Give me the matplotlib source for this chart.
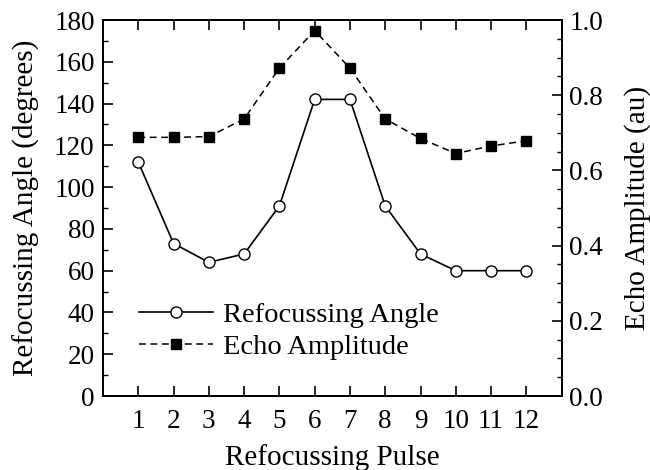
import matplotlib
matplotlib.use('Agg')
import matplotlib.pyplot as plt
from matplotlib.ticker import MultipleLocator

plt.rcParams['font.family'] = ['Liberation Serif', 'DejaVu Serif']

pulse = [1, 2, 3, 4, 5, 6, 7, 8, 9, 10, 11, 12]
angle = [112, 73, 64, 68, 91, 142, 142, 91, 68, 60, 60, 60]
echo = [0.688, 0.688, 0.690, 0.737, 0.872, 0.972, 0.872, 0.737, 0.685, 0.645, 0.665, 0.679]

fs_tick = 19.5
fs_lab = 21
fs_leg = 20.5

fig = plt.figure(figsize=(6.5, 4.7), dpi=100)
ax = fig.add_axes([0.1585, 0.1574, 0.7055, 0.8])
ax2 = ax.twinx()

l1, = ax.plot(pulse, angle, '-', color='k', lw=1.2, marker='o', ms=8,
              mfc='white', mec='k', mew=1.0, label='Refocussing Angle', zorder=3)
l2, = ax2.plot(pulse, echo, '--', color='k', lw=1.1, marker='s', ms=6.5,
               mfc='k', mec='k', dashes=(4.5, 3), label='Echo Amplitude')

ax.set_xlim(0, 13)
ax.set_ylim(0, 180)
ax2.set_ylim(0, 1.0)
ax.set_xticks(pulse)
ax.yaxis.set_major_locator(MultipleLocator(20))
ax.yaxis.set_minor_locator(MultipleLocator(10))
ax2.yaxis.set_major_locator(MultipleLocator(0.2))
ax2.yaxis.set_minor_locator(MultipleLocator(0.05))
ax2.set_yticklabels(['%.1f' % v for v in ax2.get_yticks()])

ax.tick_params(axis='both', which='both', direction='in', labelsize=fs_tick, top=True, right=False)
ax.tick_params(axis='both', which='major', length=7, width=1.2)
ax.tick_params(axis='y', which='minor', length=3.5, width=1.0)
ax.tick_params(axis='x', which='major', pad=9)
ax.tick_params(axis='y', which='major', pad=6)
ax2.tick_params(axis='y', which='both', direction='in', labelsize=fs_tick)
ax2.tick_params(axis='y', which='major', length=7, width=1.2, pad=5.5)
ax2.tick_params(axis='y', which='minor', length=3.5, width=1.0)
for a in (ax, ax2):
    for s in a.spines.values():
        s.set_linewidth(1.3)

ax.set_xlabel('Refocussing Pulse', fontsize=fs_lab, labelpad=7.5)
ax.set_ylabel('Refocussing Angle (degrees)', fontsize=fs_lab, labelpad=10)
ax2.set_ylabel('Echo Amplitude (au)', fontsize=fs_lab, labelpad=15)

ax2.legend([l1, l2], ['Refocussing Angle', 'Echo Amplitude'], loc='lower left',
           bbox_to_anchor=(0.078, 0.097), frameon=False, fontsize=fs_leg,
           handlelength=2.6, handletextpad=0.35, labelspacing=0.2, borderpad=0,
           borderaxespad=0)

fig.savefig('out.png', dpi=100)
